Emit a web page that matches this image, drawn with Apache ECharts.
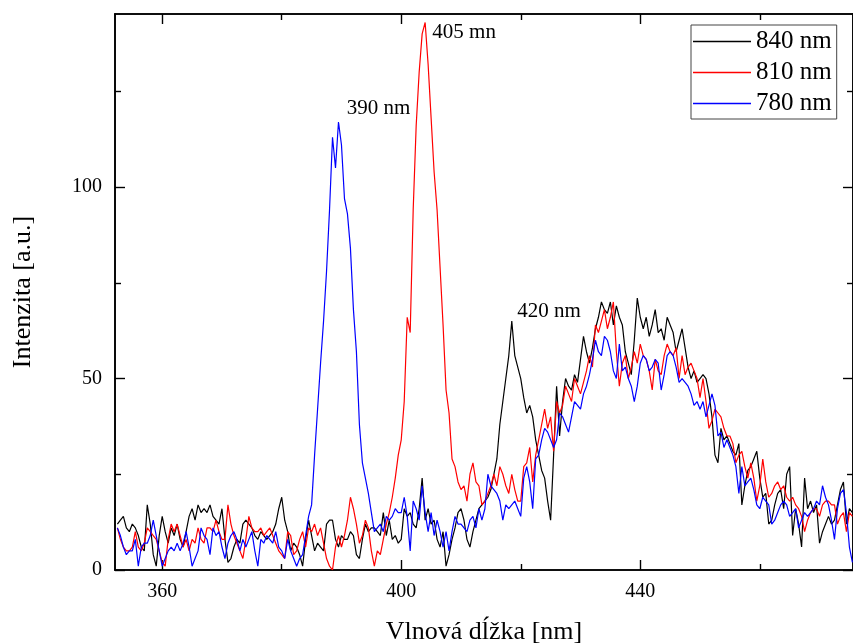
<!DOCTYPE html>
<html>
<head>
<meta charset="utf-8">
<script src="https://cdn.jsdelivr.net/npm/echarts@6/dist/echarts.min.js"></script>
<style>html,body{margin:0;padding:0;background:#fff;}#chart{width:853px;height:644px;}</style>
</head>
<body>
<div id="chart"></div>
<script>
// Wavelengths [nm]
const wavelengths = [
352.5,353,353.5,354,354.5,355,355.5,356,356.5,357,
357.5,358,358.5,359,359.5,360,360.5,361,361.5,362,
362.5,363,363.5,364,364.5,365,365.5,366,366.5,367,
367.5,368,368.5,369,369.5,370,370.5,371,371.5,372,
372.5,373,373.5,374,374.5,375,375.5,376,376.5,377,
377.5,378,378.5,379,379.5,380,380.5,381,381.5,382,
382.5,383,383.5,384,384.5,385,385.5,386,386.5,387,
387.5,388,388.5,389,389.5,390,390.5,391,391.5,392,
392.5,393,393.5,394,394.5,395,395.5,396,396.5,397,
397.5,398,398.5,399,399.5,400,400.5,401,401.5,402,
402.5,403,403.5,404,404.5,405,405.5,406,406.5,407,
407.5,408,408.5,409,409.5,410,410.5,411,411.5,412,
412.5,413,413.5,414,414.5,415,415.5,416,416.5,417,
417.5,418,418.5,419,419.5,420,420.5,421,421.5,422,
422.5,423,423.5,424,424.5,425,425.5,426,426.5,427,
427.5,428,428.5,429,429.5,430,430.5,431,431.5,432,
432.5,433,433.5,434,434.5,435,435.5,436,436.5,437,
437.5,438,438.5,439,439.5,440,440.5,441,441.5,442,
442.5,443,443.5,444,444.5,445,445.5,446,446.5,447,
447.5,448,448.5,449,449.5,450,450.5,451,451.5,452,
452.5,453,453.5,454,454.5,455,455.5,456,456.5,457,
457.5,458,458.5,459,459.5,460,460.5,461,461.5,462,
462.5,463,463.5,464,464.5,465,465.5,466,466.5,467,
467.5,468,468.5,469,469.5,470,470.5,471,471.5,472,
472.5,473,473.5,474,474.5,475,475.5
];

const s840 = [
12,13,14,11,10,12,11,9,6,5,
17,12,4,1,9,14,10,7,11,9,
12,8,6,10,14,16,13,17,15,16,
15,17,14,13,12,16,8,2,3,6,
8,7,12,13,12,11,9,8,10,9,
8,9,10,12,16,19,13,10,5,7,
6,4,1,8,13,9,5,7,6,5,
12,13,13,8,6,9,8,8,10,9,
4,3,8,12,10,11,11,10,9,15,
9,13,8,9,7,8,16,14,15,12,
11,16,24,13,16,12,13,8,6,10,
1,4,8,11,15,16,13,8,6,10,
13,16,17,18,19,21,25,29,38,44,
50,56,65,56,53,50,45,41,43,40,
34,30,26,24,18,13,30,48,35,44,
50,48,47,51,49,55,61,57,54,58,
63,66,70,68,67,70,64,69,66,64,
57,54,51,60,71,66,63,66,61,64,
68,62,63,60,66,64,62,57,60,63,
58,53,50,52,49,50,51,50,46,40,
30,28,37,34,35,33,31,30,33,17,
22,26,27,29,31,24,19,20,12,13,
17,20,21,16,25,27,9,16,12,6,
24,16,18,15,17,7,10,12,14,12,
13,17,21,23,12,16,15
];

const s810 = [
11,8,6,5,5,6,10,6,5,7,
11,10,9,8,5,2,1,8,12,10,
12,9,6,8,5,8,7,11,8,7,
11,11,10,13,10,8,8,17,12,9,
7,5,3,8,14,11,10,10,11,9,
10,11,9,7,5,4,3,10,9,4,
5,8,10,6,11,10,12,9,11,7,
3,1,0,6,9,6,9,13,19,16,
12,7,9,13,11,5,1,5,4,8,
12,15,19,24,30,34,44,66,62,94,
116,130,140,143,132,118,104,94,79,64,
47,41,29,27,23,21,22,18,25,28,
23,22,17,18,20,22,25,22,27,25,
22,20,25,21,18,18,27,28,32,23,
30,34,38,42,37,40,31,44,41,43,
48,46,44,50,48,46,49,52,56,53,
64,62,65,68,63,66,70,57,48,54,
56,50,53,57,54,59,56,55,52,47,
55,52,51,56,59,57,56,58,50,56,
51,53,54,52,50,45,50,44,37,39,
42,41,40,37,35,35,33,28,30,31,
27,24,28,24,18,22,29,23,19,20,
22,23,21,22,19,18,19,17,16,14,
10,13,15,16,16,14,17,18,18,17,
17,12,14,15,10,15,14
];

const s780 = [
11,9,6,4,5,5,8,1,6,7,
7,9,13,9,5,1,3,5,6,5,
7,5,7,10,6,1,3,5,11,9,
8,4,11,9,10,6,3,7,9,10,
8,5,8,6,8,10,5,1,8,7,
9,8,7,10,6,5,3,8,5,3,
1,3,4,9,14,17,30,42,54,65,
78,94,113,105,117,111,97,93,84,68,
57,38,28,24,20,15,10,11,12,10,
14,13,14,16,15,15,19,14,5,18,
16,13,22,15,10,15,9,13,10,6,
10,5,10,14,12,12,11,10,13,14,
11,16,13,16,25,22,21,20,18,13,
17,16,17,18,16,14,24,27,23,16,
29,30,34,37,36,34,32,34,41,40,
38,36,40,44,43,42,46,48,51,55,
60,57,56,61,60,57,52,50,59,52,
53,50,48,44,48,54,56,55,52,53,
55,54,47,51,56,57,56,53,49,50,
49,48,46,43,44,42,44,40,43,46,
43,35,36,32,34,32,30,27,20,27,
22,23,24,21,17,16,19,18,17,12,
13,15,17,18,17,14,15,16,11,13,
15,14,15,16,18,17,22,19,17,13,
8,16,20,21,15,6,2
];

const seriesNames = ['840 nm', '810 nm', '780 nm'];
const xMajorTicks = [360, 400, 440];
const xMinorTicks = [380, 420, 460];
const yMajorTicks = [0, 50, 100];
const yMinorTicks = [25, 75, 125];
const xTitle = 'Vlnová dĺžka [nm]';
const yTitle = 'Intenzita [a.u.]';
const annTexts = ['390 nm', '405 mn', '420 nm'];
const annX = [390.9, 405.2, 419.4];
const annY = [120.6, 140.5, 67.5];

const FONT = 'Liberation Serif';
const X_MIN = 352.1, X_MAX = 475.6, Y_MIN = 0, Y_MAX = 145.2;

function pairs(arr) { return wavelengths.map((w, i) => [w, arr[i]]); }

const axisLineStyle = { show: true, onZero: false, lineStyle: { color: '#000', width: 1.6 } };

function xAx(position, ticks, len, labels, withName) {
  const a = {
    type: 'value', gridIndex: 0, position: position, min: X_MIN, max: X_MAX,
    splitLine: { show: false },
    axisLine: axisLineStyle,
    axisTick: { show: true, inside: true, length: len, customValues: ticks, lineStyle: { color: '#000', width: 1.4 } },
    axisLabel: labels ? { show: true, customValues: ticks, fontSize: 20, fontFamily: FONT, color: '#000', margin: 12 } : { show: false }
  };
  if (withName) {
    a.name = xTitle; a.nameLocation = 'middle'; a.nameGap = 49;
    a.nameTextStyle = { fontSize: 26, fontFamily: FONT, color: '#000' };
  }
  return a;
}
function yAx(position, ticks, len, labels, withName) {
  const a = {
    type: 'value', gridIndex: 0, position: position, min: Y_MIN, max: Y_MAX,
    splitLine: { show: false },
    axisLine: axisLineStyle,
    axisTick: { show: true, inside: true, length: len, customValues: ticks, lineStyle: { color: '#000', width: 1.4 } },
    axisLabel: labels ? { show: true, customValues: ticks, fontSize: 20, fontFamily: FONT, color: '#000', margin: 13 } : { show: false }
  };
  if (withName) {
    a.name = yTitle; a.nameLocation = 'middle'; a.nameGap = 79;
    a.nameTextStyle = { fontSize: 26, fontFamily: FONT, color: '#000' };
  }
  return a;
}

const colors = ['#000000', '#ff0000', '#0000ff'];
const dataSets = [s840, s810, s780];

const series = seriesNames.map((n, k) => ({
  name: n, type: 'line', xAxisIndex: 0, yAxisIndex: 0,
  data: pairs(dataSets[k]), showSymbol: false, symbol: 'none',
  lineStyle: { color: colors[k], width: 1.2 }, itemStyle: { color: colors[k] },
  clip: true, z: 2 + k
}));

series[0].markPoint = {
  symbol: 'circle', symbolSize: 0, silent: true,
  label: { show: true, position: 'right', distance: 0, color: '#000', fontSize: 21, fontFamily: FONT, formatter: p => p.name },
  data: annTexts.map((t, i) => ({ name: t, coord: [annX[i], annY[i]] }))
};

const option = {
  animation: false,
  backgroundColor: '#fff',
  grid: { left: 115, right: 0, top: 14, bottom: 74, containLabel: false, outerBoundsMode: 'none' },
  xAxis: [
    xAx('bottom', xMajorTicks, 10, true, true),
    xAx('bottom', xMinorTicks, 6, false, false),
    xAx('top', xMajorTicks, 10, false, false),
    xAx('top', xMinorTicks, 6, false, false)
  ],
  yAxis: [
    yAx('left', yMajorTicks, 10, true, true),
    yAx('left', yMinorTicks, 6, false, false),
    yAx('right', yMajorTicks, 10, false, false),
    yAx('right', yMinorTicks, 6, false, false)
  ],
  legend: {
    data: seriesNames.map(n => ({ name: n, icon: 'rect' })), orient: 'vertical', left: 691, top: 25,
    backgroundColor: '#fff', borderColor: '#444', borderWidth: 1,
    padding: [4, 5, 3, 2], itemGap: 6, itemWidth: 58, itemHeight: 1.5,
    textStyle: { fontSize: 25, fontFamily: FONT, color: '#000' }
  },
  series: series
};

const chart = echarts.init(document.getElementById('chart'), null, { renderer: 'canvas' });
chart.setOption(option);
</script>
</body>
</html>
